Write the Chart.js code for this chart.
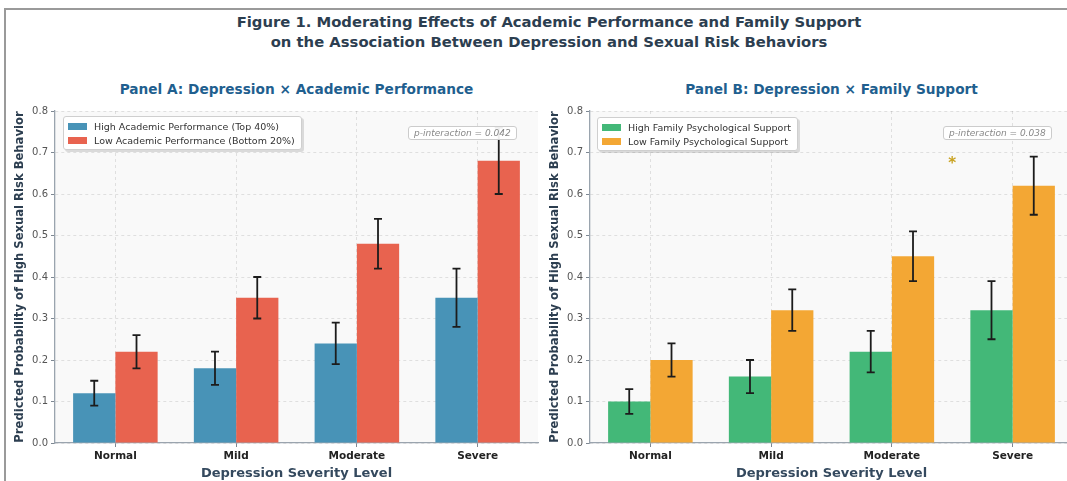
<!DOCTYPE html>
<html>
<head>
<meta charset="utf-8">
<script src="https://cdn.jsdelivr.net/npm/chart.js@4.4.1/dist/chart.umd.min.js"></script>
<style>
  html, body { margin: 0; padding: 0; background: #fff; overflow: hidden; width: 1067px; height: 481px; font-family: "DejaVu Sans", sans-serif; }
  #frame { position: absolute; left: 4px; top: 8px; width: 1200px; height: 600px; border-top: 2px solid #9a9a9a; border-left: 2px solid #9a9a9a; }
  .fig-title { position: absolute; left: 0; width: 1098px; top: 12px; text-align: center; font-weight: bold; font-size: 14.8px; line-height: 20px; color: #2c3e50; }
  .panel-title { position: absolute; top: 81px; width: 483px; text-align: center; font-weight: bold; font-size: 13.7px; color: #1f5f8f; }
  .wrap { position: absolute; top: 100px; width: 545px; height: 381px; }
  .legend { position: absolute; background: #fff; border: 1px solid #cfcfcf; border-radius: 3px; box-shadow: 2px 2px 0 rgba(0,0,0,0.12); padding: 2px 6px 2px 4px; font-size: 9.5px; color: #333; }
  .legend .row { display: flex; align-items: center; height: 14px; white-space: nowrap; }
  .legend .sw { display: inline-block; width: 19px; height: 7px; margin-right: 7px; }
  .pbox { position: absolute; border: 1px solid #ccc; border-radius: 3px; background: rgba(255,255,255,0.92); font-style: italic; font-size: 9px; color: #888; padding: 1px 5px; white-space: nowrap; }
</style>
</head>
<body>
<div id="frame"></div>
<div class="fig-title">Figure 1. Moderating Effects of Academic Performance and Family Support<br>on the Association Between Depression and Sexual Risk Behaviors</div>

<div class="panel-title" style="left:55px">Panel A: Depression × Academic Performance</div>
<div class="panel-title" style="left:590px">Panel B: Depression × Family Support</div>

<div class="wrap" style="left:0"><canvas id="chartA" width="545" height="381"></canvas></div>
<div class="wrap" style="left:535px"><canvas id="chartB" width="545" height="381"></canvas></div>

<div class="legend" id="legendA" style="left:63px; top:116px"></div>
<div class="legend" id="legendB" style="left:597px; top:117px"></div>
<div class="pbox" style="left:408px; top:126px">p-interaction = 0.042</div>
<div class="pbox" style="left:943px; top:126px">p-interaction = 0.038</div>

<script>
const categories = ['Normal', 'Mild', 'Moderate', 'Severe'];
const yTicks = [0.0, 0.1, 0.2, 0.3, 0.4, 0.5, 0.6, 0.7, 0.8];

// Panel A
const highAcadLabel = 'High Academic Performance (Top 40%)';
const highAcad = [0.12, 0.18, 0.24, 0.35];
const highAcadLo = [0.09, 0.14, 0.19, 0.28];
const highAcadHi = [0.15, 0.22, 0.29, 0.42];
const lowAcadLabel = 'Low Academic Performance (Bottom 20%)';
const lowAcad = [0.22, 0.35, 0.48, 0.68];
const lowAcadLo = [0.18, 0.30, 0.42, 0.60];
const lowAcadHi = [0.26, 0.40, 0.54, 0.76];

// Panel B
const highFamLabel = 'High Family Psychological Support';
const highFam = [0.10, 0.16, 0.22, 0.32];
const highFamLo = [0.07, 0.12, 0.17, 0.25];
const highFamHi = [0.13, 0.20, 0.27, 0.39];
const lowFamLabel = 'Low Family Psychological Support';
const lowFam = [0.20, 0.32, 0.45, 0.62];
const lowFamLo = [0.16, 0.27, 0.39, 0.55];
const lowFamHi = [0.24, 0.37, 0.51, 0.69];

// significance marker (between Moderate and Severe)
const starB = { x: 2.5, y: 0.68 };

const colors = { blue: '#4893b7', red: '#e8634f', green: '#43b878', orange: '#f3a734' };

// fond de la zone de tracé
const plotBg = {
  id: 'plotBg',
  beforeDraw(chart) {
    const { ctx, chartArea: a } = chart;
    ctx.save();
    ctx.fillStyle = '#f9f9f9';
    ctx.fillRect(a.left, a.top, a.right - a.left, a.bottom - a.top);
    ctx.restore();
  }
};

// barres d'erreur
const errorBars = {
  id: 'errorBars',
  afterDatasetsDraw(chart) {
    const ctx = chart.ctx, y = chart.scales.y;
    chart.data.datasets.forEach((ds, i) => {
      const meta = chart.getDatasetMeta(i);
      meta.data.forEach((bar, j) => {
        const top = y.getPixelForValue(ds.errHigh[j]);
        const bot = y.getPixelForValue(ds.errLow[j]);
        ctx.save();
        ctx.strokeStyle = '#1c1c1c';
        ctx.lineWidth = 1.8;
        ctx.beginPath();
        ctx.moveTo(bar.x, top); ctx.lineTo(bar.x, bot);
        ctx.moveTo(bar.x - 4, top); ctx.lineTo(bar.x + 4, top);
        ctx.moveTo(bar.x - 4, bot); ctx.lineTo(bar.x + 4, bot);
        ctx.stroke();
        ctx.restore();
      });
    });
    const star = chart.options.plugins.errorBars && chart.options.plugins.errorBars.star;
    if (star) {
      ctx.save();
      ctx.fillStyle = '#c9a21f';
      ctx.font = 'bold 15px "DejaVu Sans"';
      ctx.textAlign = 'center';
      ctx.textBaseline = 'middle';
      ctx.fillText('*', chart.scales.x.getPixelForValue(star.x), chart.scales.y.getPixelForValue(star.y) + 3);
      ctx.restore();
    }
  }
};

function buildLegend(el, items) {
  el.innerHTML = items.map(it =>
    `<div class="row"><span class="sw" style="background:${it.color}"></span>${it.label}</div>`).join('');
}

function makeChart(id, sets, star) {
  return new Chart(document.getElementById(id), {
    type: 'bar',
    data: {
      labels: categories,
      datasets: sets.map(s => ({
        label: s.label,
        data: s.data,
        errLow: s.lo,
        errHigh: s.hi,
        backgroundColor: s.color,
        borderWidth: 0,
        categoryPercentage: 0.7,
        barPercentage: 1.0
      }))
    },
    options: {
      responsive: false,
      animation: false,
      layout: { padding: { top: 11, right: 7, left: 13, bottom: 0 } },
      plugins: {
        legend: { display: false },
        tooltip: { enabled: false },
        errorBars: { star }
      },
      scales: {
        x: {
          grid: { offset: false, color: 'rgba(0,0,0,0.10)', tickLength: 4, tickColor: '#7d8792' },
          border: { color: '#9aa4ae', width: 1.3, dash: [3, 3] },
          ticks: { font: { family: 'DejaVu Sans', weight: 'bold', size: 10.5 }, color: '#222', padding: 3 },
          title: { display: true, text: 'Depression Severity Level', font: { family: 'DejaVu Sans', weight: 'bold', size: 13 }, color: '#34495e', padding: { top: 0, bottom: 0 } },
          afterFit(s) { s.height = 38; }
        },
        y: {
          min: 0, max: 0.8,
          afterBuildTicks(s) { s.ticks = yTicks.map(v => ({ value: v })); },
          grid: { color: 'rgba(0,0,0,0.10)', tickLength: 4, tickColor: '#7d8792' },
          border: { color: '#9aa4ae', width: 1.3, dash: [3, 3] },
          ticks: { callback: v => v.toFixed(1), font: { family: 'DejaVu Sans', size: 10 }, color: '#555', padding: 3 },
          title: { display: true, text: 'Predicted Probability of High Sexual Risk Behavior', font: { family: 'DejaVu Sans', weight: 'bold', size: 11.6 }, color: '#2c3e50', padding: { top: 0, bottom: 0 } },
          afterFit(s) { s.width = 42; }
        }
      }
    },
    plugins: [plotBg, errorBars]
  });
}

const setsA = [
  { label: highAcadLabel, data: highAcad, lo: highAcadLo, hi: highAcadHi, color: colors.blue },
  { label: lowAcadLabel, data: lowAcad, lo: lowAcadLo, hi: lowAcadHi, color: colors.red }
];
const setsB = [
  { label: highFamLabel, data: highFam, lo: highFamLo, hi: highFamHi, color: colors.green },
  { label: lowFamLabel, data: lowFam, lo: lowFamLo, hi: lowFamHi, color: colors.orange }
];

makeChart('chartA', setsA, null);
makeChart('chartB', setsB, starB);
buildLegend(document.getElementById('legendA'), setsA);
buildLegend(document.getElementById('legendB'), setsB);
</script>
</body>
</html>
